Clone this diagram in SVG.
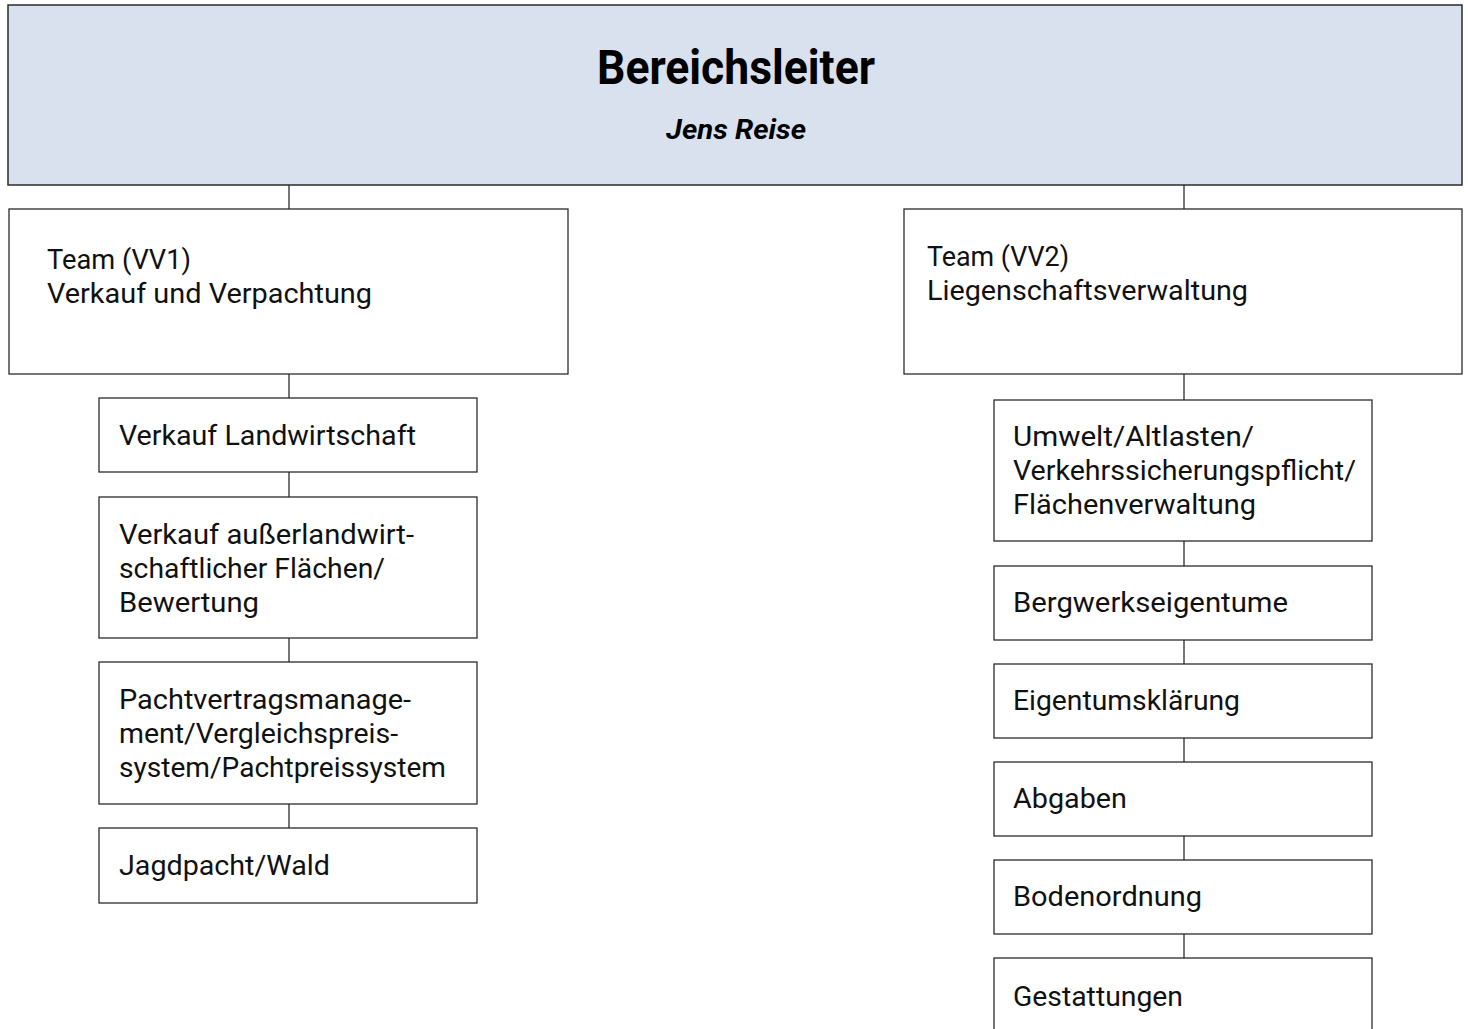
<svg xmlns="http://www.w3.org/2000/svg" width="1468" height="1029" viewBox="0 0 1468 1029">
<style>
.box{fill:#ffffff;stroke:#2b2b2b;stroke-width:1.3}
.head{fill:#d9e0ee;stroke:#2b2b2b;stroke-width:1.5}
.t{font-family:"Liberation Sans Narrow","Roboto","Liberation Sans",sans-serif;font-size:28.5px;fill:#111}
.h1{font-family:"Liberation Sans Narrow","Roboto","Liberation Sans",sans-serif;font-size:49px;font-weight:bold;fill:#000}
.h2{font-family:"Liberation Sans Narrow","Roboto","Liberation Sans",sans-serif;font-size:27px;font-weight:bold;font-style:italic;fill:#000}
.c{stroke:#2b2b2b;stroke-width:1.3;fill:none}
</style>
<rect width="1468" height="1029" fill="#ffffff"/>
<g id="connectors">
<line class="c" x1="289" y1="185" x2="289" y2="209"/>
<line class="c" x1="1184" y1="185" x2="1184" y2="209"/>
<line class="c" x1="289" y1="374" x2="289" y2="398"/>
<line class="c" x1="289" y1="472" x2="289" y2="497"/>
<line class="c" x1="289" y1="638" x2="289" y2="662"/>
<line class="c" x1="289" y1="804" x2="289" y2="828"/>
<line class="c" x1="1184" y1="374" x2="1184" y2="400"/>
<line class="c" x1="1184" y1="541" x2="1184" y2="566"/>
<line class="c" x1="1184" y1="640" x2="1184" y2="664"/>
<line class="c" x1="1184" y1="738" x2="1184" y2="762"/>
<line class="c" x1="1184" y1="836" x2="1184" y2="860"/>
<line class="c" x1="1184" y1="934" x2="1184" y2="958"/>
</g>
<g id="bereichsleiter">
<rect class="head" x="8" y="5" width="1454" height="180"/>
<text class="h1" x="597" y="84" textLength="278" lengthAdjust="spacingAndGlyphs">Bereichsleiter</text>
<text class="h2" x="666" y="139" textLength="140" lengthAdjust="spacingAndGlyphs">Jens Reise</text>
</g>
<g id="vv1">
<rect class="box" x="9" y="209" width="559" height="165"/>
<text class="t" x="47" y="269" textLength="144" lengthAdjust="spacingAndGlyphs">Team (VV1)</text>
<text class="t" x="47" y="303" textLength="325" lengthAdjust="spacingAndGlyphs">Verkauf und Verpachtung</text>
</g>
<g id="vv2">
<rect class="box" x="904" y="209" width="558" height="165"/>
<text class="t" x="927" y="266" textLength="142" lengthAdjust="spacingAndGlyphs">Team (VV2)</text>
<text class="t" x="927" y="300" textLength="321" lengthAdjust="spacingAndGlyphs">Liegenschaftsverwaltung</text>
</g>
<g id="verkauf-landwirtschaft">
<rect class="box" x="99" y="398" width="378" height="74"/>
<text class="t" x="119" y="445" textLength="297" lengthAdjust="spacingAndGlyphs">Verkauf Landwirtschaft</text>
</g>
<g id="verkauf-ausserlandwirtschaftlich">
<rect class="box" x="99" y="497" width="378" height="141"/>
<text class="t" x="119" y="544" textLength="295" lengthAdjust="spacingAndGlyphs">Verkauf außerlandwirt-</text>
<text class="t" x="119" y="578" textLength="266" lengthAdjust="spacingAndGlyphs">schaftlicher Flächen/</text>
<text class="t" x="119" y="612" textLength="140" lengthAdjust="spacingAndGlyphs">Bewertung</text>
</g>
<g id="pachtvertragsmanagement">
<rect class="box" x="99" y="662" width="378" height="142"/>
<text class="t" x="119" y="709" textLength="292" lengthAdjust="spacingAndGlyphs">Pachtvertragsmanage-</text>
<text class="t" x="119" y="743" textLength="279" lengthAdjust="spacingAndGlyphs">ment/Vergleichspreis-</text>
<text class="t" x="119" y="777" textLength="327" lengthAdjust="spacingAndGlyphs">system/Pachtpreissystem</text>
</g>
<g id="jagdpacht">
<rect class="box" x="99" y="828" width="378" height="75"/>
<text class="t" x="119" y="875" textLength="211" lengthAdjust="spacingAndGlyphs">Jagdpacht/Wald</text>
</g>
<g id="umwelt">
<rect class="box" x="994" y="400" width="378" height="141"/>
<text class="t" x="1013" y="446" textLength="241" lengthAdjust="spacingAndGlyphs">Umwelt/Altlasten/</text>
<text class="t" x="1013" y="480" textLength="343" lengthAdjust="spacingAndGlyphs">Verkehrssicherungspflicht/</text>
<text class="t" x="1013" y="514" textLength="243" lengthAdjust="spacingAndGlyphs">Flächenverwaltung</text>
</g>
<g id="bergwerkseigentume">
<rect class="box" x="994" y="566" width="378" height="74"/>
<text class="t" x="1013" y="612" textLength="275" lengthAdjust="spacingAndGlyphs">Bergwerkseigentume</text>
</g>
<g id="eigentumsklaerung">
<rect class="box" x="994" y="664" width="378" height="74"/>
<text class="t" x="1013" y="710" textLength="227" lengthAdjust="spacingAndGlyphs">Eigentumsklärung</text>
</g>
<g id="abgaben">
<rect class="box" x="994" y="762" width="378" height="74"/>
<text class="t" x="1013" y="808" textLength="114" lengthAdjust="spacingAndGlyphs">Abgaben</text>
</g>
<g id="bodenordnung">
<rect class="box" x="994" y="860" width="378" height="74"/>
<text class="t" x="1013" y="906" textLength="189" lengthAdjust="spacingAndGlyphs">Bodenordnung</text>
</g>
<g id="gestattungen">
<rect class="box" x="994" y="958" width="378" height="90"/>
<text class="t" x="1013" y="1006" textLength="170" lengthAdjust="spacingAndGlyphs">Gestattungen</text>
</g>
</svg>
